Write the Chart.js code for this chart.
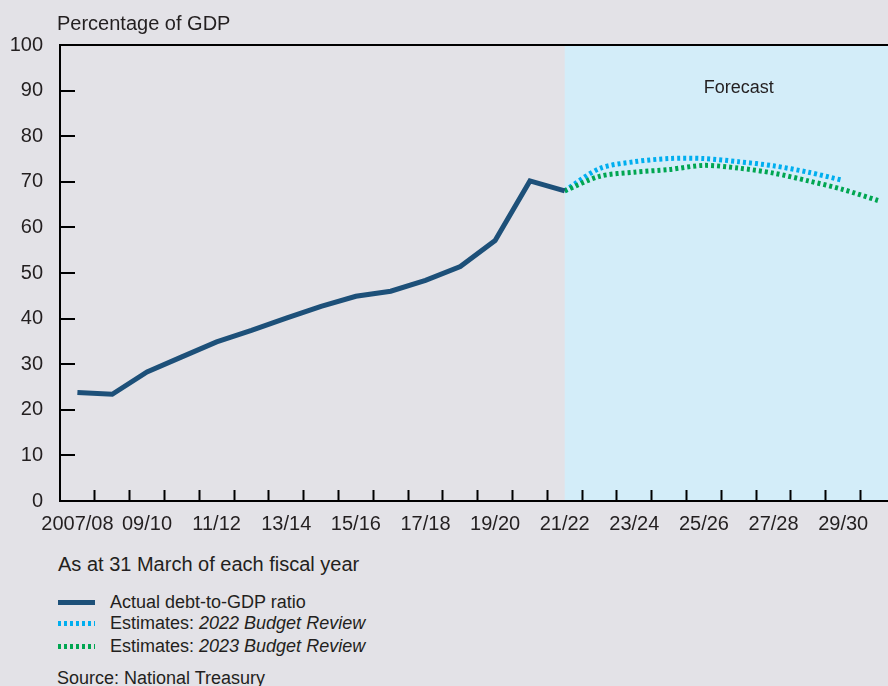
<!DOCTYPE html>
<html>
<head>
<meta charset="utf-8">
<script src="https://cdn.jsdelivr.net/npm/chart.js@4"></script>
<style>
    body { margin: 0; background: #e3e2e7; font-family: "Liberation Sans", Arial, sans-serif; color: #231f20; overflow: hidden; }
    #wrap { position: relative; width: 888px; height: 686px; overflow: hidden; }
    #chart { position: absolute; left: 0; top: 0; }
    .txt { position: absolute; white-space: nowrap; }
    .row { position: absolute; left: 58px; font-size: 18px; line-height: 22px; display: flex; align-items: center; }
    .swatch { width: 37px; height: 5px; margin-right: 15px; }
</style>
</head>
<body>
<div id="wrap">
    <canvas id="chart" width="900" height="545"></canvas>
    <div class="txt" style="left:57px; top:11px; font-size:20px; line-height:24px;">Percentage of GDP</div>
    <div class="txt" style="left:58px; top:552px; font-size:20px; line-height:24px;">As at 31 March of each fiscal year</div>
    <div class="row" style="top:591px;"><span class="swatch" style="background:#1d5079;"></span>Actual debt-to-GDP ratio</div>
    <div class="row" style="top:612px;"><span class="swatch" style="background:repeating-linear-gradient(to right,#00aeef 0 3px,transparent 3px 6px);"></span>Estimates:&nbsp;<i>2022 Budget Review</i></div>
    <div class="row" style="top:635px;"><span class="swatch" style="background:repeating-linear-gradient(to right,#00a651 0 3px,transparent 3px 6px);"></span>Estimates:&nbsp;<i>2023 Budget Review</i></div>
    <div class="txt" style="left:57px; top:667px; font-size:18px; line-height:22px;">Source: National Treasury</div>
</div>
<script>
// fiscal years, 2007/08 .. 2030/31
const years = ['2007/08', '08/09', '09/10', '10/11', '11/12', '12/13', '13/14', '14/15', '15/16', '16/17', '17/18', '18/19',
    '19/20', '20/21', '21/22', '22/23', '23/24', '24/25', '25/26', '26/27', '27/28', '28/29', '29/30', '30/31'];

// actual debt-to-GDP, 2007/08 .. 2021/22
const actual = [23.8, 23.4, 28.3, 31.6, 34.9, 37.4, 40.1, 42.7, 44.9, 46.0, 48.4, 51.4, 57.1, 70.2, 68.0];

// estimates, both start at 2021/22
const est2022 = [68.0, 72.9, 74.4, 75.1, 75.1, 74.4, 73.5, 72.1, 70.3];
const est2023 = [68.0, 71.2, 72.1, 72.7, 73.6, 73.0, 71.9, 70.2, 68.3, 65.9];

const forecastStart = years.indexOf('21/22');
const yTicks = [0, 10, 20, 30, 40, 50, 60, 70, 80, 90, 100];

const toPoints = (arr, start) => arr.map((v, i) => ({ x: start + i, y: v }));

const forecastPlugin = {
    id: 'forecast',
    beforeDraw(chart) {
        const { ctx, chartArea: a, scales: { x, y } } = chart;
        const x0 = x.getPixelForValue(forecastStart);
        ctx.save();
        ctx.fillStyle = '#d3edf9';
        ctx.fillRect(x0, a.top, a.right - x0, a.bottom - a.top);
        ctx.fillStyle = '#231f20';
        ctx.font = '18px "Liberation Sans", Arial, sans-serif';
        ctx.textAlign = 'center';
        ctx.textBaseline = 'middle';
        ctx.fillText('Forecast', x.getPixelForValue(19), y.getPixelForValue(90.5));
        ctx.restore();
    }
};

const tickFont = { family: '"Liberation Sans", Arial, sans-serif', size: 20 };

new Chart(document.getElementById('chart'), {
    type: 'line',
    data: {
        datasets: [
            {
                label: 'Actual debt-to-GDP ratio',
                data: toPoints(actual, 0),
                borderColor: '#1d5079',
                borderWidth: 5,
                borderJoinStyle: 'miter',
                pointRadius: 0,
                tension: 0
            },
            {
                label: 'Estimates: 2023 Budget Review',
                data: toPoints(est2023, forecastStart),
                borderColor: '#00a651',
                borderWidth: 5,
                borderDash: [3, 3],
                pointRadius: 0,
                tension: 0.3
            },
            {
                label: 'Estimates: 2022 Budget Review',
                data: toPoints(est2022, forecastStart),
                borderColor: '#00aeef',
                borderWidth: 5,
                borderDash: [3, 3],
                pointRadius: 0,
                tension: 0.3
            }
        ]
    },
    options: {
        responsive: false,
        animation: false,
        layout: { padding: { top: 45, right: 0, left: 0, bottom: 0 } },
        plugins: { legend: { display: false }, tooltip: { enabled: false } },
        scales: {
            x: {
                type: 'linear',
                min: -0.5,
                max: 23.29,
                afterBuildTicks: (scale) => {
                    const t = [];
                    for (let v = 0; v <= 23; v += 0.5) t.push({ value: v });
                    scale.ticks = t;
                },
                afterFit: (scale) => { scale.height = 40; },
                ticks: {
                    autoSkip: false,
                    maxRotation: 0,
                    padding: 22,
                    color: '#231f20',
                    font: tickFont,
                    callback: (v) => (v % 2 === 0 ? years[v] : '')
                },
                grid: {
                    drawOnChartArea: false,
                    tickLength: -11,
                    tickWidth: 2,
                    tickColor: (ctx) => (ctx.tick && ctx.tick.value % 1 !== 0 ? '#000' : 'transparent')
                },
                border: { color: '#000', width: 2 }
            },
            y: {
                min: 0,
                max: 100,
                afterBuildTicks: (scale) => { scale.ticks = yTicks.map(v => ({ value: v })); },
                afterFit: (scale) => { scale.width = 60; },
                ticks: {
                    padding: 32,
                    color: '#231f20',
                    font: tickFont
                },
                grid: {
                    lineWidth: 2,
                    color: (ctx) => (ctx.tick && ctx.tick.value === 100 ? '#000' : 'transparent'),
                    tickLength: -15,
                    tickWidth: 2,
                    tickColor: (ctx) => (ctx.tick && ctx.tick.value > 0 && ctx.tick.value < 100 ? '#000' : 'transparent')
                },
                border: { color: '#000', width: 2 }
            }
        }
    },
    plugins: [forecastPlugin]
});
</script>
</body>
</html>
